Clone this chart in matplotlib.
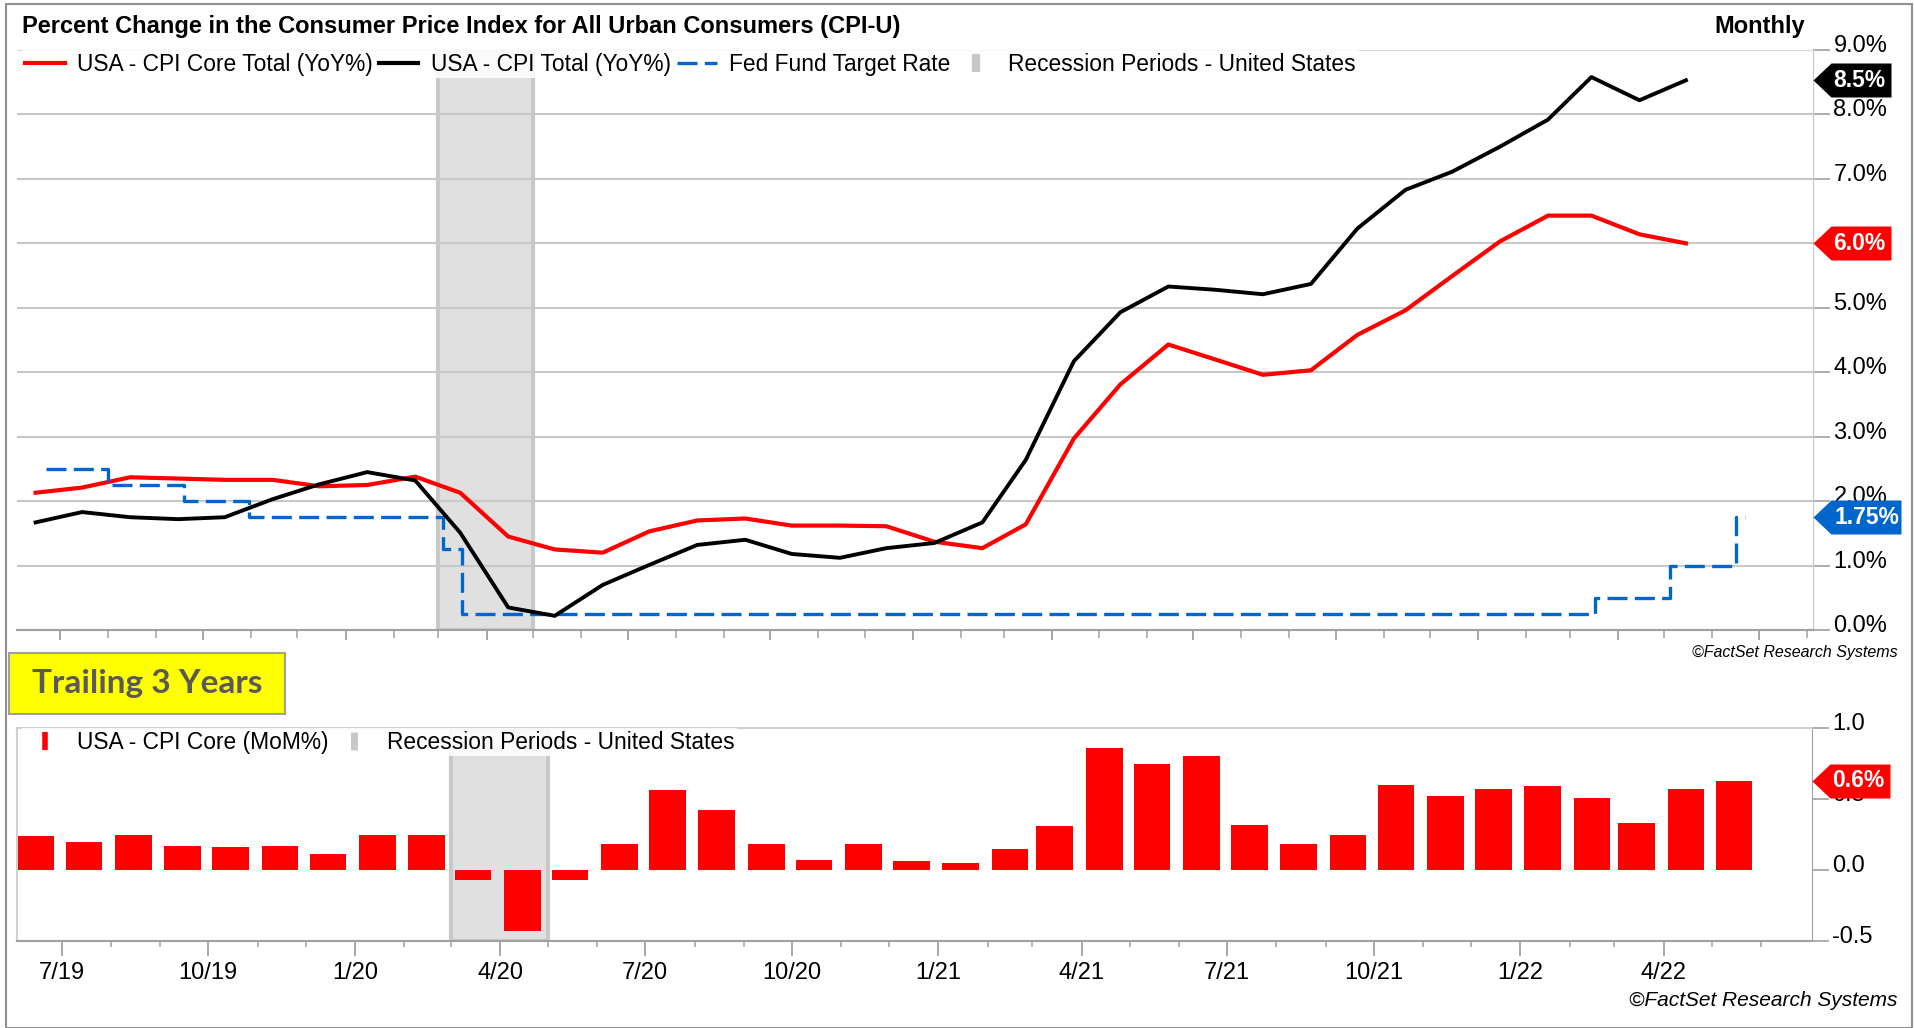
import matplotlib
matplotlib.use("Agg")
import matplotlib.pyplot as plt
import matplotlib.dates as mdates
import matplotlib.transforms as mtransforms
from matplotlib.lines import Line2D
from matplotlib.markers import MarkerStyle
from matplotlib.path import Path
from matplotlib.patches import Rectangle
import pandas as pd

plt.rcParams['font.family'] = ['Liberation Sans', 'DejaVu Sans']

# monthly data, Jun 2019 - May 2022 (plotted mid-month)
months = pd.date_range('2019-06-01', '2022-05-01', freq='MS') + pd.Timedelta(days=14)

cpi_total_yoy = [1.67, 1.83, 1.75, 1.72, 1.75, 2.03, 2.26,
                 2.45, 2.32, 1.51, 0.35, 0.22, 0.70, 1.01, 1.32, 1.40, 1.18, 1.12, 1.27,
                 1.35, 1.67, 2.64, 4.17, 4.93, 5.33, 5.28, 5.21, 5.37, 6.23, 6.83, 7.11,
                 7.50, 7.92, 8.58, 8.22, 8.53]
cpi_core_yoy = [2.13, 2.21, 2.37, 2.35, 2.33, 2.33, 2.23,
                2.25, 2.38, 2.13, 1.45, 1.25, 1.20, 1.53, 1.70, 1.73, 1.62, 1.62, 1.61,
                1.37, 1.27, 1.64, 2.97, 3.81, 4.43, 4.20, 3.96, 4.03, 4.58, 4.96, 5.49,
                6.03, 6.43, 6.43, 6.14, 6.00]
cpi_core_mom = [0.24, 0.20, 0.25, 0.17, 0.16, 0.17, 0.11,
                0.25, 0.25, -0.07, -0.43, -0.07, 0.18, 0.56, 0.42, 0.18, 0.07, 0.18, 0.06,
                0.05, 0.15, 0.31, 0.86, 0.75, 0.80, 0.32, 0.18, 0.25, 0.60, 0.52, 0.57,
                0.59, 0.51, 0.33, 0.57, 0.63]

# fed funds target (upper bound) step changes
fed_dates = pd.to_datetime(['2019-06-22', '2019-08-01', '2019-09-19', '2019-10-31',
                            '2020-03-04', '2020-03-16', '2022-03-17', '2022-05-05',
                            '2022-06-16', '2022-06-22'])
fed_rate = [2.50, 2.25, 2.00, 1.75, 1.25, 0.25, 0.50, 1.00, 1.75, 1.75]

recession = (pd.Timestamp('2020-03-01'), pd.Timestamp('2020-05-01'))

RED = '#FF0000'
BLUE = '#0066CC'
SHADE = '#E0E0E0'
SHADE_EDGE = '#C8C8C8'
FED_DASH = (6, 2.2)

W, H = 1915, 1028
fig = plt.figure(figsize=(W / 100, H / 100), dpi=100)


def px_box(l, t, r, b):
    return [l / W, 1 - b / H, (r - l) / W, (b - t) / H]


def value_tag(ax, val, text, color, width=78, tip=18, height=34, text_px=46):
    hh = height / 2 / width
    verts = [(0, 0), (tip / width, hh), (1, hh), (1, -hh), (tip / width, -hh), (0, 0)]
    codes = [Path.MOVETO] + [Path.LINETO] * 4 + [Path.CLOSEPOLY]
    m = MarkerStyle(Path(verts, codes))
    ax.plot([1], [val], transform=ax.get_yaxis_transform(), marker=m,
            markersize=1.44 * width, color=color, markeredgewidth=0,
            linestyle='none', clip_on=False, zorder=10)
    ax.annotate(text, xy=(1, val), xycoords=ax.get_yaxis_transform(),
                xytext=(text_px * 0.72, 0), textcoords='offset points',
                ha='center', va='center', color='white', fontweight='bold',
                fontsize=16.5, annotation_clip=False, zorder=11)


def month_label(x, pos):
    d = mdates.num2date(x)
    return '{}/{:02d}'.format(d.month, d.year % 100)


def style_xaxis(ax, major_len, minor_len, last_tick):
    quarters = pd.date_range('2019-07-01', last_tick, freq='QS-JAN')
    all_months = pd.date_range('2019-06-01', last_tick, freq='MS')
    ax.xaxis.set_major_locator(plt.FixedLocator(mdates.date2num(quarters)))
    ax.xaxis.set_minor_locator(plt.FixedLocator(mdates.date2num(all_months)))
    ax.xaxis.set_major_formatter(plt.FuncFormatter(month_label))
    ax.tick_params(axis='x', which='major', direction='out', length=major_len * 0.72,
                   width=1.3, color='#A0A0A0', labelsize=17, pad=4)
    ax.tick_params(axis='x', which='minor', direction='out', length=minor_len * 0.72,
                   width=1.1, color='#A0A0A0')


def shift_ylabels(ax, dy_px):
    off = mtransforms.ScaledTranslation(0, dy_px / 100, fig.dpi_scale_trans)
    for lab in ax.get_yticklabels():
        lab.set_transform(lab.get_transform() + off)


# ---------------- top panel: YoY ----------------
ax1 = fig.add_axes(px_box(17, 50, 1813, 630))
ax1.axvspan(*recession, facecolor=SHADE, edgecolor=SHADE_EDGE, lw=3, zorder=0.4)
ax1.plot(months, cpi_core_yoy, color=RED, lw=3.0, zorder=3)
ax1.plot(months, cpi_total_yoy, color='black', lw=2.8, zorder=4)
ax1.step(fed_dates, fed_rate, where='post', color=BLUE, lw=2.4, dashes=FED_DASH, zorder=3)

ax1.set_ylim(0, 9)
ax1.set_yticks(range(10))
ax1.set_yticklabels(['{:.1f}%'.format(v) for v in range(10)])
ax1.yaxis.tick_right()
ax1.tick_params(axis='y', direction='out', length=17 * 0.72, width=1.2, color='#A0A0A0',
                labelsize=17, pad=2.5)
ax1.yaxis.grid(True, color='#C8C8C8', lw=1.5)
ax1.set_axisbelow(True)
style_xaxis(ax1, 10, 8, '2022-08-01')
ax1.tick_params(axis='x', labelbottom=False)
ax1.set_xlim(pd.Timestamp('2019-06-03'), pd.Timestamp('2022-08-05'))
ax1.spines['left'].set_visible(False)
ax1.spines['top'].set_color('#D8D8D8')
ax1.spines['right'].set_color('#C8C8C8')
ax1.spines['bottom'].set_color('#A0A0A0')
ax1.spines['bottom'].set_linewidth(1.5)
shift_ylabels(ax1, 6.5)

handles1 = [Line2D([], [], color=RED, lw=3.0),
            Line2D([], [], color='black', lw=3.0),
            Line2D([], [], color=BLUE, lw=2.4, dashes=FED_DASH),
            Line2D([], [], color=SHADE_EDGE, linestyle='none', marker='|', ms=13, mew=6)]
labels1 = ['USA - CPI Core Total (YoY%)', 'USA - CPI Total (YoY%)',
           'Fed Fund Target Rate', 'Recession Periods - United States']
leg1 = ax1.legend(handles1, labels1, loc='upper left', bbox_to_anchor=(5 / 1796, 1), ncol=4,
                  fontsize=16.4, frameon=True, fancybox=False, facecolor='white',
                  edgecolor='none', framealpha=0.85, borderaxespad=0, borderpad=0.12,
                  handlelength=1.75, handletextpad=0.55, columnspacing=0.25, numpoints=1)
leg1.set_zorder(6)

value_tag(ax1, cpi_total_yoy[-1], '{:.1f}%'.format(cpi_total_yoy[-1]), 'black')
value_tag(ax1, cpi_core_yoy[-1], '{:.1f}%'.format(cpi_core_yoy[-1]), RED)
value_tag(ax1, fed_rate[-1], '{:.2f}%'.format(fed_rate[-1]), BLUE, width=88, text_px=54)

# ---------------- bottom panel: MoM ----------------
ax2 = fig.add_axes(px_box(17, 728, 1812, 941))
ax2.axvspan(*recession, facecolor=SHADE, edgecolor=SHADE_EDGE, lw=3, zorder=0.4)
ax2.bar(months, cpi_core_mom, width=23, color=RED, zorder=3)
ax2.set_ylim(-0.5, 1.0)
ax2.set_yticks([-0.5, 0.0, 0.5, 1.0])
ax2.set_yticklabels(['{:.1f}'.format(v) for v in [-0.5, 0.0, 0.5, 1.0]])
ax2.yaxis.tick_right()
ax2.tick_params(axis='y', direction='out', length=17 * 0.72, width=1.2, color='#A0A0A0',
                labelsize=17, pad=2.5)
style_xaxis(ax2, 15, 6, '2022-06-01')
ax2.set_xlim(pd.Timestamp('2019-06-03'), pd.Timestamp('2022-07-03'))
for s in ['left', 'top']:
    ax2.spines[s].set_color('#D0D0D0')
    ax2.spines[s].set_linewidth(1.5)
ax2.spines['right'].set_color('#A0A0A0')
ax2.spines['bottom'].set_color('#A0A0A0')
ax2.spines['bottom'].set_linewidth(1.5)
shift_ylabels(ax2, 6.5)

handles2 = [Line2D([], [], color=RED, linestyle='none', marker='|', ms=13, mew=4),
            Line2D([], [], color=SHADE_EDGE, linestyle='none', marker='|', ms=13, mew=5)]
labels2 = ['USA - CPI Core (MoM%)', 'Recession Periods - United States']
leg2 = ax2.legend(handles2, labels2, loc='upper left', bbox_to_anchor=(5 / 1795, 1), ncol=2,
                  fontsize=16.4, frameon=True, fancybox=False, facecolor='white',
                  edgecolor='none', framealpha=0.85, borderaxespad=0, borderpad=0.12,
                  handlelength=1.75, handletextpad=0.55, columnspacing=0.25, numpoints=1)
leg2.set_zorder(6)

value_tag(ax2, cpi_core_mom[-1], '{:.1f}%'.format(cpi_core_mom[-1]), RED)

# ---------------- figure texts ----------------
fig.text(22 / W, 1 - 26 / H,
         'Percent Change in the Consumer Price Index for All Urban Consumers (CPI-U)',
         fontsize=17, fontweight='bold', ha='left', va='center')
fig.text(1805 / W, 1 - 26 / H, 'Monthly', fontsize=17, fontweight='bold',
         ha='right', va='center')
fig.text(1898 / W, 1 - 652 / H, '\u00a9FactSet Research Systems', fontsize=11.5,
         style='italic', ha='right', va='center')
fig.text(1898 / W, 1 - 1000 / H, '\u00a9FactSet Research Systems', fontsize=15,
         style='italic', ha='right', va='center')

fig.patches.append(Rectangle((9 / W, 1 - 714 / H), 276 / W, 61 / H, transform=fig.transFigure,
                             facecolor='#FFFF00', edgecolor='#A0A0A0', lw=1.5))
fig.text(147 / W, 1 - 684 / H, 'Trailing 3 Years', fontsize=24, fontweight='bold',
         family=['Lato', 'DejaVu Sans'], color='#595959', ha='center', va='center')

# outer frame
fig.patches.append(Rectangle((6 / W, 0), 1906 / W, 1 - 4 / H, transform=fig.transFigure,
                             facecolor='none', edgecolor='#909090', lw=1.5))

fig.savefig('out.png', dpi=100)
